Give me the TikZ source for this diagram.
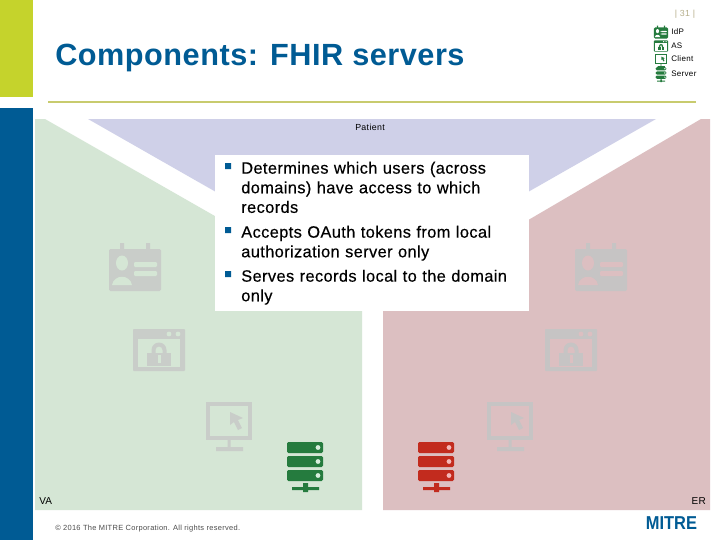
\documentclass[tikz,border=0pt]{standalone}
\usepackage{fontspec}
\setmainfont{Liberation Sans}
\definecolor{mblue}{HTML}{005B94}
\definecolor{mlime}{HTML}{C5D32C}
\definecolor{mline}{HTML}{C8CB6E}
\definecolor{pgreen}{HTML}{D5E6D5}
\definecolor{pred}{HTML}{DCBFC1}
\definecolor{ppur}{HTML}{CFD0E8}
\definecolor{dgreen}{HTML}{257B3E}
\definecolor{dred}{HTML}{C22B1E}
\definecolor{ghost}{HTML}{C9CDC9}
\definecolor{ghostr}{HTML}{C6C4C4}
\definecolor{tanpg}{HTML}{B5AE8A}
\definecolor{dotg}{HTML}{D8EEDD}
\definecolor{dotr}{HTML}{F4B8B8}
\tikzset{x=0.75pt,y=-0.75pt,
 small/.style={font=\fontsize{6.6}{8}\selectfont\addfontfeatures{LetterSpace=4},inner sep=0pt,text=black},
 legend/.style={font=\fontsize{6}{8}\selectfont\addfontfeatures{LetterSpace=4},inner sep=0pt,text=black,anchor=west},
 bul/.style={font=\fontsize{12.3}{14.7}\selectfont\addfontfeatures{LetterSpace=2.3,FakeBold=0.3},inner sep=0pt,anchor=north west,align=left,text width=290*0.75pt},
 pics/idcard/.style n args={2}{code={
   \fill[#1,rounded corners=1pt] (-26,-21) rectangle (26,21);
   \fill[#1] (-15,-27) rectangle (-11,-18) (11,-27) rectangle (15,-18);
   \fill[#2,rounded corners=.8pt] (-1,-8) rectangle (22,-3) (-1,1) rectangle (22,6);
   \fill[#2] (-13,-7) ellipse (6 and 7.5);
   \fill[#2] (-23,15) .. controls (-21,4) and (-5,4) .. (-3,15) -- cycle;
 }},
 pics/lockwin/.style n args={2}{code={
   \fill[#1,rounded corners=.6pt] (-26,-21) rectangle (26,21);
   \fill[#2] (-21,-11) rectangle (21,17);
   \fill[#2] (10,-16) circle (2.4) (19,-16) circle (2.4);
   \fill[#1] (-12,3) rectangle (12,16);
   \fill[#1,even odd rule] (-7.5,3) -- (-7.5,0) arc (180:360:7.5) -- (7.5,3) -- cycle
     (-3.5,3) -- (-3.5,0) arc (180:360:3.5) -- (3.5,3) -- cycle;
   \fill[#2] (-1.5,5) rectangle (1.5,13);
 }},
 pics/monitor/.style n args={2}{code={
   \fill[#1] (-23,-19) rectangle (23,19);
   \fill[#2] (-19,-15) rectangle (19,15);
   \fill[#1] (-1.5,19) rectangle (1.5,27) (-13,26) rectangle (14,30);
   \fill[#1] (1,-9) -- (14,-3) -- (9,-1) -- (13,7) -- (9,9) -- (5,1) -- (1,4) -- cycle;
 }},
 pics/srv/.style n args={2}{code={
   \foreach \yy in {-23,-9,5}{
     \fill[#1,rounded corners=1pt] (-18,\yy) rectangle (18,\yy+11);
     \fill[#2] (13,\yy+5.5) circle (2.4);
   }
   \fill[#1] (-13,22) rectangle (14,25) (-2,18) rectangle (3,27);
 }}
}
\begin{document}
\begin{tikzpicture}
\useasboundingbox (0,0) rectangle (720,540);
\fill[white] (0,0) rectangle (720,540);
\fill[mlime] (0,0) rectangle (33,97);
\fill[mblue] (0,108) rectangle (33,540);
\draw[mline,line width=1.5pt] (48,101.5) -- (696,101.5);
\fill[pgreen] (35,119) -- (45,119) -- (362,300) -- (362,510) -- (35,510) -- cycle;
\fill[pred] (710,119) -- (701,119) -- (383,305) -- (383,510) -- (710,510) -- cycle;
\fill[ppur] (88,119) -- (656,119) -- (372,281) -- cycle;
\node[small] (patient) at (370,127) {Patient};
\fill[white] (215,155) rectangle (529,311);
\fill[mblue] (225,163) rectangle (231,169) (225,227) rectangle (231,233) (225,271) rectangle (231,277);
\node[bul] (b1) at (241,161.5) {Determines which users (across\\ domains) have access to which\\ records};
\node[bul] (b2) at (241,225.5) {Accepts OAuth tokens from local\\ authorization server only};
\node[bul] (b3) at (241,269.5) {Serves records local to the domain\\ only};
\node[anchor=base west,inner sep=0pt,text=mblue,font=\bfseries\fontsize{23}{26}\selectfont\addfontfeatures{LetterSpace=1.7}] (title) at (55,65) {Components: FHIR servers};
\node[small,text=tanpg] (pg) at (685,14) {| 31 |};
\pic at (661,33) [scale=.27] {idcard={dgreen}{white}};
\pic at (661,46) [scale=.27] {lockwin={dgreen}{white}};
\pic at (661,59) [scale=.27] {monitor={dgreen}{white}};
\pic at (661,74) [scale=.3] {srv={dgreen}{white}};
\node[legend] (lidp) at (671,32) {IdP};
\node[legend] (las) at (671,46) {AS};
\node[legend] (lcl) at (671,59) {Client};
\node[legend] (lsv) at (671,74) {Server};
\pic at (135,270) {idcard={ghost}{pgreen}};
\pic at (159,350) {lockwin={ghost}{pgreen}};
\pic at (229,421) {monitor={ghost}{pgreen}};
\pic at (305,465) {srv={dgreen}{dotg}};
\pic at (601,270) {idcard={ghostr}{pred}};
\pic at (571,350) {lockwin={ghostr}{pred}};
\pic at (510,421) {monitor={ghostr}{pred}};
\pic at (436,465) {srv={dred}{dotr}};
\node[small,font=\fontsize{7.5}{9}\selectfont\addfontfeatures{LetterSpace=2},anchor=west] (va) at (39,501) {VA};
\node[small,font=\fontsize{7.5}{9}\selectfont\addfontfeatures{LetterSpace=2},anchor=east] (er) at (706,501) {ER};
\node[small,text=black!70,font=\fontsize{5.6}{8}\selectfont\addfontfeatures{LetterSpace=4},anchor=west] (foot) at (55,528.5) {© 2016 The MITRE Corporation. All rights reserved.};
\node[inner sep=0pt,text=mblue,font=\bfseries\fontsize{14}{16}\selectfont,xscale=.88,transform shape] (logo) at (671.5,523.5) {MITRE};
\end{tikzpicture}
\end{document}
